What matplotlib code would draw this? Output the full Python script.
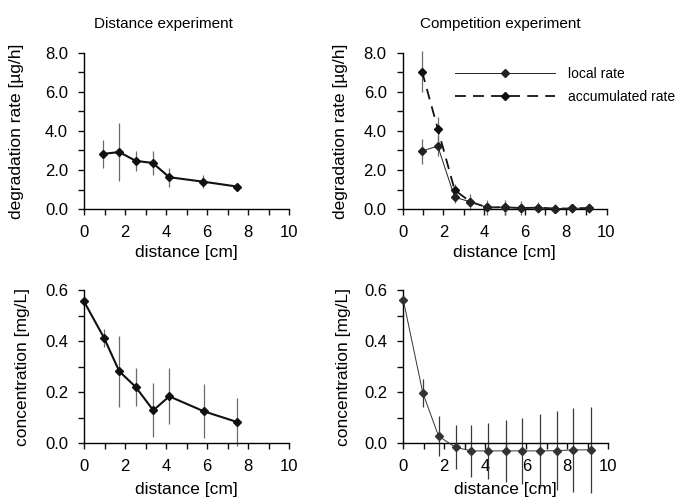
import matplotlib
matplotlib.use("Agg")
import matplotlib.pyplot as plt
from matplotlib.ticker import MultipleLocator, FormatStrFormatter
from matplotlib.lines import Line2D

plt.rcParams['font.family'] = ['Liberation Sans', 'DejaVu Sans']

# ---- data ----
dist_x = [0.95, 1.72, 2.52, 3.35, 4.16, 5.82, 7.48]
dist_rate = [2.83, 2.92, 2.47, 2.36, 1.63, 1.40, 1.15]
dist_rate_err = [0.72, 1.47, 0.52, 0.60, 0.48, 0.33, 0.20]

dist_conc_x = [0.0, 0.98, 1.72, 2.52, 3.38, 4.16, 5.85, 7.48]
dist_conc = [0.555, 0.412, 0.281, 0.220, 0.128, 0.183, 0.124, 0.082]
dist_conc_err = [0.0, 0.037, 0.140, 0.073, 0.106, 0.110, 0.106, 0.093]

comp_x = [0.95, 1.72, 2.55, 3.32, 4.15, 5.0, 5.8, 6.65, 7.48, 8.3, 9.15]
local_rate = [2.97, 3.23, 0.60, 0.37, 0.08, 0.09, 0.05, 0.07, 0.02, 0.03, 0.05]
local_rate_err = [0.64, 0.50, 0.30, 0.40, 0.40, 0.35, 0.35, 0.30, 0.25, 0.25, 0.25]
accum_rate = [7.05, 4.12, 0.97, 0.37, 0.08, 0.09, 0.05, 0.07, 0.02, 0.03, 0.05]
accum_rate_err = [1.06, 0.62, 0.30, 0.0, 0.0, 0.0, 0.0, 0.0, 0.0, 0.0, 0.0]

comp_conc_x = [0.0, 0.95, 1.72, 2.55, 3.32, 4.15, 5.0, 5.8, 6.65, 7.48, 8.3, 9.15]
comp_conc = [0.561, 0.197, 0.027, -0.017, -0.031, -0.031, -0.031, -0.031, -0.031, -0.030, -0.027, -0.027]
comp_conc_err = [0.0, 0.055, 0.078, 0.086, 0.101, 0.11, 0.12, 0.13, 0.145, 0.155, 0.165, 0.17]

W, H = 677, 497
fig = plt.figure(figsize=(W / 100, H / 100), dpi=100)

def rect(x0, x1, ytop, ybot):
    return [x0 / W, 1 - ybot / H, (x1 - x0) / W, (ybot - ytop) / H]

ax_tl = fig.add_axes(rect(84, 289, 53, 209))
ax_tr = fig.add_axes(rect(402.7, 606.5, 53, 209))
ax_bl = fig.add_axes(rect(84, 289, 290, 443))
ax_br = fig.add_axes(rect(403.3, 608.3, 290, 443))

TICK_FS = 12
LABEL_FS = 12.5
ECOL = '#6a6a6a'
MS = 4.5

def style(ax, ymax, ymajor, yminor, fmt, ylabel, ylx, xly):
    for s in ('top', 'right'):
        ax.spines[s].set_visible(False)
    for s in ('left', 'bottom'):
        ax.spines[s].set_linewidth(1.0)
    ax.set_xlim(0, 10)
    ax.set_ylim(0, ymax)
    ax.xaxis.set_major_locator(MultipleLocator(2))
    ax.xaxis.set_minor_locator(MultipleLocator(1))
    ax.yaxis.set_major_locator(MultipleLocator(ymajor))
    ax.yaxis.set_minor_locator(MultipleLocator(yminor))
    ax.yaxis.set_major_formatter(FormatStrFormatter(fmt))
    ax.tick_params(which='both', direction='out', length=4.5, width=1.0,
                   labelsize=TICK_FS, pad=7, color='#111111')
    ax.set_xlabel('distance [cm]', fontsize=LABEL_FS)
    ax.set_ylabel(ylabel, fontsize=LABEL_FS)
    ax.xaxis.set_label_coords(0.5, xly)
    ax.xaxis.label.set_va('center')
    ax.yaxis.set_label_coords(ylx, 0.5)
    ax.yaxis.label.set_va('center')
    ax.yaxis.label.set_rotation_mode('default')

def errs(ax, x, y, e, color=ECOL, lw=0.9):
    c = ax.errorbar(x, y, yerr=e, fmt='none', ecolor=color, elinewidth=lw,
                    capsize=0, zorder=2)
    for art in c.lines[2]:
        art.set_clip_on(False)

# top-left
errs(ax_tl, dist_x, dist_rate, dist_rate_err)
ax_tl.plot(dist_x, dist_rate, color='#111111', lw=1.5, marker='D', ms=MS,
           clip_on=False, zorder=3)
style(ax_tl, 8, 2, 1, '%.1f', 'degradation rate [µg/h]', -0.327, -0.276)

# top-right
errs(ax_tr, comp_x, accum_rate, accum_rate_err)
errs(ax_tr, comp_x, local_rate, local_rate_err)
ax_tr.plot(comp_x, accum_rate, color='#111111', lw=1.3, dashes=(6, 4),
           marker='D', ms=MS, clip_on=False, zorder=3, label='accumulated rate')
ax_tr.plot(comp_x, local_rate, color='#222222', lw=0.7, marker='D', ms=MS,
           clip_on=False, zorder=4, label='local rate')
style(ax_tr, 8, 2, 1, '%.1f', 'degradation rate [µg/h]', -0.307, -0.276)
handles = [Line2D([], [], color='#222222', lw=0.7, marker='D', ms=4),
           Line2D([], [], color='#111111', lw=1.3, dashes=(6, 4), marker='D', ms=4)]
ax_tr.legend(handles, ['local rate', 'accumulated rate'], frameon=False,
             fontsize=10, handlelength=7.2, handletextpad=0.93, labelspacing=0.62,
             numpoints=1, borderpad=0, borderaxespad=0, loc='upper left',
             bbox_to_anchor=(455 / W, 1 - 67 / H),
             bbox_transform=fig.transFigure)

# bottom-left
errs(ax_bl, dist_conc_x, dist_conc, dist_conc_err)
ax_bl.plot(dist_conc_x, dist_conc, color='#111111', lw=1.5, marker='D', ms=MS,
           clip_on=False, zorder=3)
style(ax_bl, 0.6, 0.2, 0.1, '%.1f', 'concentration [mg/L]', -0.298, -0.307)

# bottom-right
errs(ax_br, comp_conc_x, comp_conc, comp_conc_err, color='#3a3a3a')
ax_br.plot(comp_conc_x, comp_conc, color='#333333', lw=0.7, marker='D', ms=MS,
           clip_on=False, zorder=3)
style(ax_br, 0.6, 0.2, 0.1, '%.1f', 'concentration [mg/L]', -0.291, -0.307)

fig.text(163 / W, 1 - 24 / H, 'Distance experiment', ha='center', va='center',
         fontsize=11)
fig.text(500 / W, 1 - 24 / H, 'Competition experiment', ha='center',
         va='center', fontsize=11)

fig.savefig('out.png', dpi=100)
